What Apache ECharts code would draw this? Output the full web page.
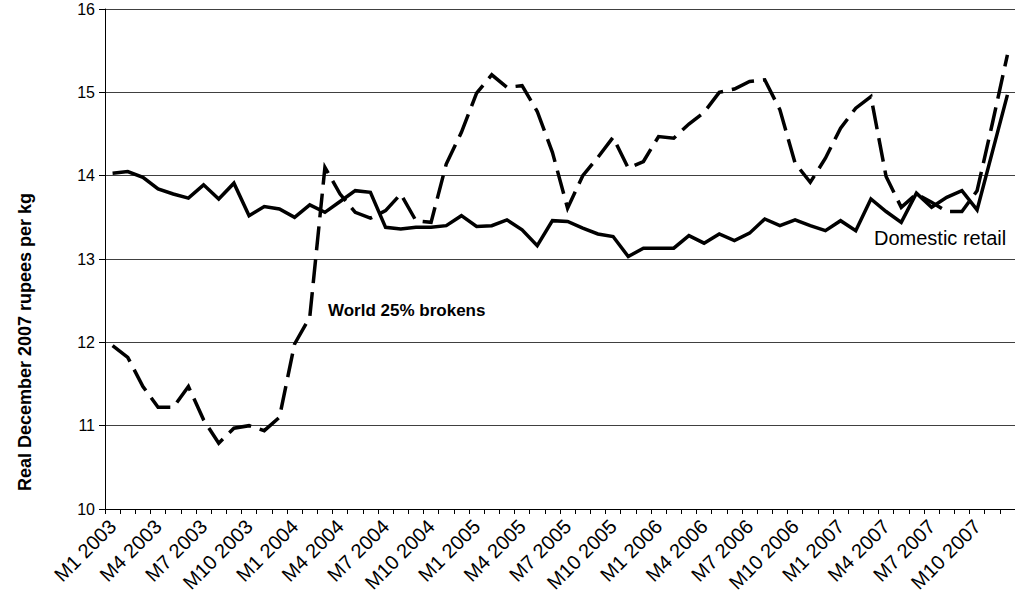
<!DOCTYPE html>
<html>
<head>
<meta charset="utf-8">
<script src="https://cdn.jsdelivr.net/npm/echarts@6/dist/echarts.min.js"></script>
<style>
  html, body { margin: 0; padding: 0; background: #fff; }
  #chart { width: 1015px; height: 607px; }
</style>
</head>
<body>
<div id="chart"></div>
<script>
  // Mois M1 2003 .. M12 2007
  const years = [2003, 2004, 2005, 2006, 2007];
  const months = [];
  years.forEach(y => {
    for (let m = 1; m <= 12; m++) months.push('M' + m + ' ' + y);
  });

  // Prix de détail intérieur (trait plein)
  const domesticRetail = [
    14.03, 14.05, 13.98, 13.84, 13.78, 13.73, 13.89, 13.72, 13.91, 13.52, 13.63, 13.60,
    13.50, 13.65, 13.56, 13.69, 13.82, 13.80, 13.38, 13.36, 13.38, 13.38, 13.40, 13.52,
    13.39, 13.40, 13.47, 13.35, 13.16, 13.46, 13.45, 13.37, 13.30, 13.27, 13.03, 13.13,
    13.13, 13.13, 13.28, 13.19, 13.30, 13.22, 13.31, 13.48, 13.40, 13.47, 13.40, 13.34,
    13.46, 13.34, 13.72, 13.57, 13.44, 13.79, 13.62, 13.74, 13.82, 13.59, 14.28, 14.97
  ];

  // Prix mondial brisures 25% (tirets)
  const world25Brokens = [
    11.96, 11.82, 11.47, 11.22, 11.22, 11.47, 11.07, 10.79, 10.97, 11.00, 10.94, 11.10,
    11.98, 12.30, 14.10, 13.78, 13.56, 13.49, 13.58, 13.78, 13.46, 13.44, 14.14, 14.52,
    14.99, 15.21, 15.06, 15.08, 14.77, 14.28, 13.61, 14.00, 14.22, 14.46, 14.09, 14.17,
    14.47, 14.45, 14.62, 14.76, 15.00, 15.04, 15.13, 15.15, 14.79, 14.15, 13.92, 14.21,
    14.57, 14.81, 14.95, 13.99, 13.62, 13.78, 13.68, 13.57, 13.57, 13.82, 14.62, 15.45
  ];

  const font = "'Liberation Sans', Arial, sans-serif";

  const chart = echarts.init(document.getElementById('chart'), null, { renderer: 'svg' });

  const option = {
    animation: false,
    backgroundColor: '#fff',
    grid: { left: 105, right: -8, top: 9, bottom: 98 },
    xAxis: {
      type: 'category',
      data: months,
      boundaryGap: true,
      axisLine: { show: true, lineStyle: { color: '#000', width: 1 } },
      axisTick: { show: true, interval: 0, length: 5, lineStyle: { color: '#000' } },
      axisLabel: {
        interval: 2, rotate: 45, margin: 14,
        fontFamily: font, fontSize: 20, color: '#000'
      },
      splitLine: { show: false }
    },
    yAxis: {
      type: 'value',
      min: 10, max: 16, interval: 1,
      axisLine: { show: true, lineStyle: { color: '#000', width: 1 } },
      axisTick: { show: true, length: 6, lineStyle: { color: '#000' } },
      axisLabel: { margin: 10, fontFamily: font, fontSize: 16, color: '#000' },
      splitLine: { show: true, lineStyle: { color: '#404040', width: 1 } }
    },
    graphic: [
      {
        // titre de l'axe vertical
        type: 'text', x: 25, y: 342, rotation: Math.PI / 2,
        style: {
          text: 'Real December 2007 rupees per kg',
          font: 'bold 18px ' + font, fill: '#000',
          align: 'center', verticalAlign: 'middle'
        }
      },
      {
        type: 'text', left: 328, top: 302,
        style: { text: 'World 25% brokens', font: 'bold 17px ' + font, fill: '#000' }
      },
      {
        type: 'text', left: 874, top: 228,
        style: { text: 'Domestic retail', font: '20px ' + font, fill: '#000' }
      }
    ],
    series: [
      {
        name: 'Domestic retail',
        type: 'line',
        data: domesticRetail,
        symbol: 'none',
        lineStyle: { color: '#000', width: 3.5, join: 'miter' }
      },
      {
        name: 'World 25% brokens',
        type: 'line',
        data: world25Brokens,
        symbol: 'none',
        lineStyle: { color: '#000', width: 3.5, type: [24, 9], join: 'miter' }
      }
    ]
  };

  chart.setOption(option);
</script>
</body>
</html>
